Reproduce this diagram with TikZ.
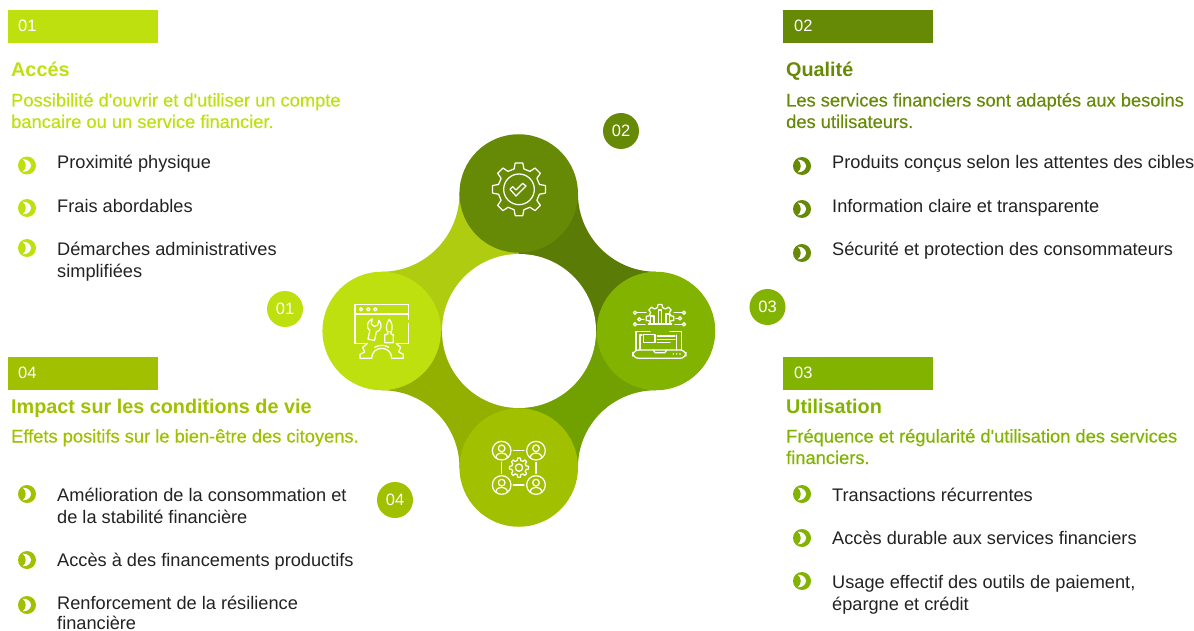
\documentclass[tikz,border=0pt]{standalone}
\usepackage{fontspec}
\setmainfont{Liberation Sans}
\newfontfamily\medfont[FakeBold=0.35]{Liberation Sans}
\usetikzlibrary{backgrounds}
\definecolor{cA}{HTML}{BFE00F}
\definecolor{cB}{HTML}{678A06}
\definecolor{cC}{HTML}{82B300}
\definecolor{cD}{HTML}{A0C000}
\definecolor{pA}{HTML}{AFCC10}
\definecolor{pB}{HTML}{5A7B06}
\definecolor{pC}{HTML}{71A001}
\definecolor{pD}{HTML}{93AF00}
\definecolor{ink}{HTML}{222222}
\tikzset{
  bigdisc/.style={circle,minimum size=118.5pt,inner sep=0,outer sep=0},
  numdisc/.style={circle,minimum size=36pt,inner sep=0,text=white,font=\fontsize{16.5}{18}\selectfont},
  tab/.style={minimum width=149.5pt,minimum height=33pt,inner sep=0,anchor=north west},
  tabnum/.style={anchor=base west,inner sep=0,text=white,font=\fontsize{16.5}{18}\selectfont},
  headline/.style={anchor=base west,inner sep=0,font=\fontsize{19.8}{22}\selectfont\bfseries},
  subline/.style={anchor=base west,inner sep=0,align=left,font=\fontsize{18.3}{21.5}\selectfont\medfont},
  bodyline/.style={anchor=base west,inner sep=0,align=left,text=ink,yshift=-0.5pt,font=\fontsize{18.2}{22}\selectfont},
  bulletdot/.style={circle,minimum size=18pt,inner sep=0},
  icon/.style={draw=white,line width=1.25pt,line join=round,line cap=round,fill=none},
}
\newcommand{\gearline}[5]{% x y rout rin teeth
  \draw[icon] ([shift={(#1,#2)}]{-0.30*360/#5}:#4) \foreach \gi in {0,...,#5}{
    -- ([shift={(#1,#2)}]{\gi*360/#5-0.30*360/#5}:#4)
    -- ([shift={(#1,#2)}]{\gi*360/#5-0.18*360/#5}:#3)
    -- ([shift={(#1,#2)}]{\gi*360/#5+0.18*360/#5}:#3)
    -- ([shift={(#1,#2)}]{\gi*360/#5+0.30*360/#5}:#4)
  };}
\newcommand{\bulletmark}[4]{% name x y colour
  \node[bulletdot,fill=#4] (#1) at (#2,#3) {};
  \fill[white] (#2-4.2,#3-6.4) .. controls (#2+2,#3-6.4) and (#2+4,#3-2) .. (#2+4,#3)
     .. controls (#2+4,#3+2) and (#2+2,#3+6.4) .. (#2-4.2,#3+6.4)
     .. controls (#2-0.2,#3+3) and (#2-0.2,#3-3) .. (#2-4.2,#3-6.4) -- cycle;}
\begin{document}
\begin{tikzpicture}[x=1pt,y=-1pt]
\useasboundingbox (0,0) rectangle (1194,631);
% ---------- centre
\node[bigdisc,fill=white,minimum size=154pt] (hub) at (519,331) {};
\node[bigdisc,fill=cA] (c1) at (381.7,331) {};
\node[bigdisc,fill=cB] (c2) at (518.7,193.5) {};
\node[bigdisc,fill=cC] (c3) at (656,331) {};
\node[bigdisc,fill=cD] (c4) at (518.7,467.5) {};
\begin{scope}[on background layer]
 \fill[pA] (c1.north) .. controls +(43,0) and +(0,43) .. (c2.west) -- (c2.center) -- (hub.center) -- (c1.center) -- cycle;
 \fill[pB] (c2.east) .. controls +(0,43) and +(-43,0) .. (c3.north) -- (c3.center) -- (hub.center) -- (c2.center) -- cycle;
 \fill[pC] (c3.south) .. controls +(-43,0) and +(0,-43) .. (c4.east) -- (c4.center) -- (hub.center) -- (c3.center) -- cycle;
 \fill[pD] (c4.west) .. controls +(0,-43) and +(43,0) .. (c1.south) -- (c1.center) -- (hub.center) -- (c4.center) -- cycle;
\end{scope}
% ---------- number discs
\node[numdisc,fill=cA] (n1) at (285,309) {01};
\node[numdisc,fill=cB] (n2) at (621,131) {02};
\node[numdisc,fill=cC] (n3) at (767.5,307) {03};
\node[numdisc,fill=cD] (n4) at (395,500) {04};
% ---------- icon: window and tools
\begin{scope}[shift={(340,290)},x=0.3333pt,y=-0.3333pt]
 \draw[icon] (205,88) -- (205,43) -- (45,43) -- (45,160) -- (75,160);
 \draw[icon] (205,100) -- (205,160) -- (172,160);
 \draw[icon] (45,72) -- (205,72);
 \foreach \dx in {63,85,106} \draw[icon] (\dx,58) circle[radius=5];
 \draw[icon,rotate around={-12:(100,120)}] (90,88) -- (90,103) -- (100,109) -- (110,103) -- (110,88)
   .. controls (124,96) and (124,118) .. (110,124) -- (110,150) -- (90,150) -- (90,124)
   .. controls (76,118) and (76,96) .. (90,88) -- cycle;
 \draw[icon] (148,88) .. controls (138,100) and (138,115) .. (142,125) -- (154,125)
   .. controls (158,115) and (158,100) .. (148,88) -- cycle;
 \draw[icon] (143,125) -- (143,132) -- (134,134) -- (134,158) -- (160,158) -- (160,134) -- (153,132) -- (153,125);
 \draw[icon] (95,205) -- (60,205) -- (60,193) -- (74,186) -- (68,172) -- (82,160);
 \draw[icon] (168,160) -- (182,172) -- (176,186) -- (190,193) -- (190,205) -- (155,205);
 \draw[icon] (95,205) .. controls (95,165) and (155,165) .. (155,205);
 \draw[icon] (104,172) .. controls (118,164) and (132,164) .. (146,172);
\end{scope}
% ---------- icon: gear and check
\begin{scope}[shift={(470,150)},x=0.3333pt,y=-0.3333pt]
 \gearline{147}{118}{80}{63}{8}
 \draw[icon] (147,118) circle[radius=46];
 \draw[icon] (120,118) -- (128,110) -- (138,120) -- (158,100) -- (168,108) -- (138,138) -- cycle;
\end{scope}
% ---------- icon: laptop with data
\begin{scope}[shift={(620,290)},x=0.3333pt,y=-0.3333pt]
 \gearline{120}{85}{42}{33}{8}
 \fill[cC] (78,103) rectangle (162,135);
 \draw[icon] (85,102) -- (155,102);
 \draw[icon] (92,102) -- (92,78) -- (102,78) -- (102,102);
 \draw[icon] (115,102) -- (115,60) -- (125,60) -- (125,102);
 \draw[icon] (138,102) -- (138,72) -- (148,72) -- (148,102);
 \foreach \lx/\ly/\dx in {78/68/45,72/88/58,75/103/45,162/68/192,168/85/180,165/103/192}{
   \draw[icon] (\lx,\ly) -- (\dx,\ly);
   \filldraw[icon,fill=cC] (\dx,\ly) circle[radius=5];
 }
 \draw[icon] (48,180) -- (48,125) -- (90,125);
 \draw[icon] (150,125) -- (185,125) -- (185,180);
 \draw[icon] (60,180) -- (60,135) -- (66,135);
 \draw[icon] (170,180) -- (170,135);
 \draw[icon] (70,133) rectangle (105,158);
 \draw[icon] (112,138) -- (165,138) (112,148) -- (165,148) (112,157) -- (150,157);
 \draw[icon,rounded corners=6] (38,180) rectangle (198,205);
 \draw[icon] (100,180) -- (105,188) -- (135,188) -- (140,180);
 \foreach \dx in {160,170,180} \fill[white] (\dx,192) circle[radius=2.5];
\end{scope}
% ---------- icon: people network
\begin{scope}[shift={(480,430)},x=0.3333pt,y=-0.3333pt]
 \foreach \px/\py in {65/62,168/62,65/165,168/165}{
   \draw[icon] (\px,\py) circle[radius=28];
   \draw[icon] (\px,\py-7) circle[radius=10];
   \draw[icon] (\px-17,\py+21) .. controls (\px-17,\py+2) and (\px+17,\py+2) .. (\px+17,\py+21);
 }
 \draw[icon] (100,62) -- (132,62) (100,165) -- (132,165) (65,97) -- (65,130) (168,97) -- (168,130);
 \gearline{117}{113}{29}{22}{8}
 \draw[icon] (117,113) circle[radius=11];
\end{scope}
% ---------- block 01
\node[tab,fill=cA] (t1) at (8,10) {};
\node[tabnum] (t1n) at (18,32) {01};
\node[headline,text=cA] (h1) at (11,77) {Accés};
\node[subline,text=cA] (s1) at (11,128) {Possibilité d'ouvrir et d'utiliser un compte\\bancaire ou un service financier.};
\bulletmark{b11}{27}{165.5}{cA}
\bulletmark{b12}{27}{208}{cA}
\bulletmark{b13}{27}{248}{cA}
\node[bodyline] (l11) at (57,168.5) {Proximité physique};
\node[bodyline] (l12) at (57,212) {Frais abordables};
\node[bodyline] (l13) at (57,277) {Démarches administratives\\simplifiées};
% ---------- block 02
\node[tab,fill=cB] (t2) at (783,10) {};
\node[tabnum] (t2n) at (794,32) {02};
\node[headline,text=cB] (h2) at (786,77) {Qualité};
\node[subline,text=cB] (s2) at (786,128) {Les services financiers sont adaptés aux besoins\\des utilisateurs.};
\bulletmark{b21}{802}{166}{cB}
\bulletmark{b22}{802}{209}{cB}
\bulletmark{b23}{802}{253}{cB}
\node[bodyline] (l21) at (832,168.5) {Produits conçus selon les attentes des cibles};
\node[bodyline] (l22) at (832,212) {Information claire et transparente};
\node[bodyline] (l23) at (832,255) {Sécurité et protection des consommateurs};
% ---------- block 04
\node[tab,fill=cD] (t4) at (8,357) {};
\node[tabnum] (t4n) at (18,378) {04};
\node[headline,text=cD] (h4) at (11,413) {Impact sur les conditions de vie};
\node[subline,text=cD] (s4) at (11,442.5) {Effets positifs sur le bien-être des citoyens.};
\bulletmark{b41}{27}{494}{cD}
\bulletmark{b42}{27}{560}{cD}
\bulletmark{b43}{27}{605}{cD}
\node[bodyline] (l41) at (57,523) {Amélioration de la consommation et\\de la stabilité financière};
\node[bodyline] (l42) at (57,566) {Accès à des financements productifs};
\node[bodyline] (l43) at (57,628.5) {Renforcement de la résilience\\[-2pt]financière};
% ---------- block 03
\node[tab,fill=cC] (t3) at (783,357) {};
\node[tabnum] (t3n) at (794,378) {03};
\node[headline,text=cC] (h3) at (786,413) {Utilisation};
\node[subline,text=cC] (s3) at (786,464) {Fréquence et régularité d'utilisation des services\\financiers.};
\bulletmark{b31}{802}{494}{cC}
\bulletmark{b32}{802}{538}{cC}
\bulletmark{b33}{802}{581}{cC}
\node[bodyline] (l31) at (832,501) {Transactions récurrentes};
\node[bodyline] (l32) at (832,544) {Accès durable aux services financiers};
\node[bodyline] (l33) at (832,610) {Usage effectif des outils de paiement,\\épargne et crédit};
\end{tikzpicture}
\end{document}
